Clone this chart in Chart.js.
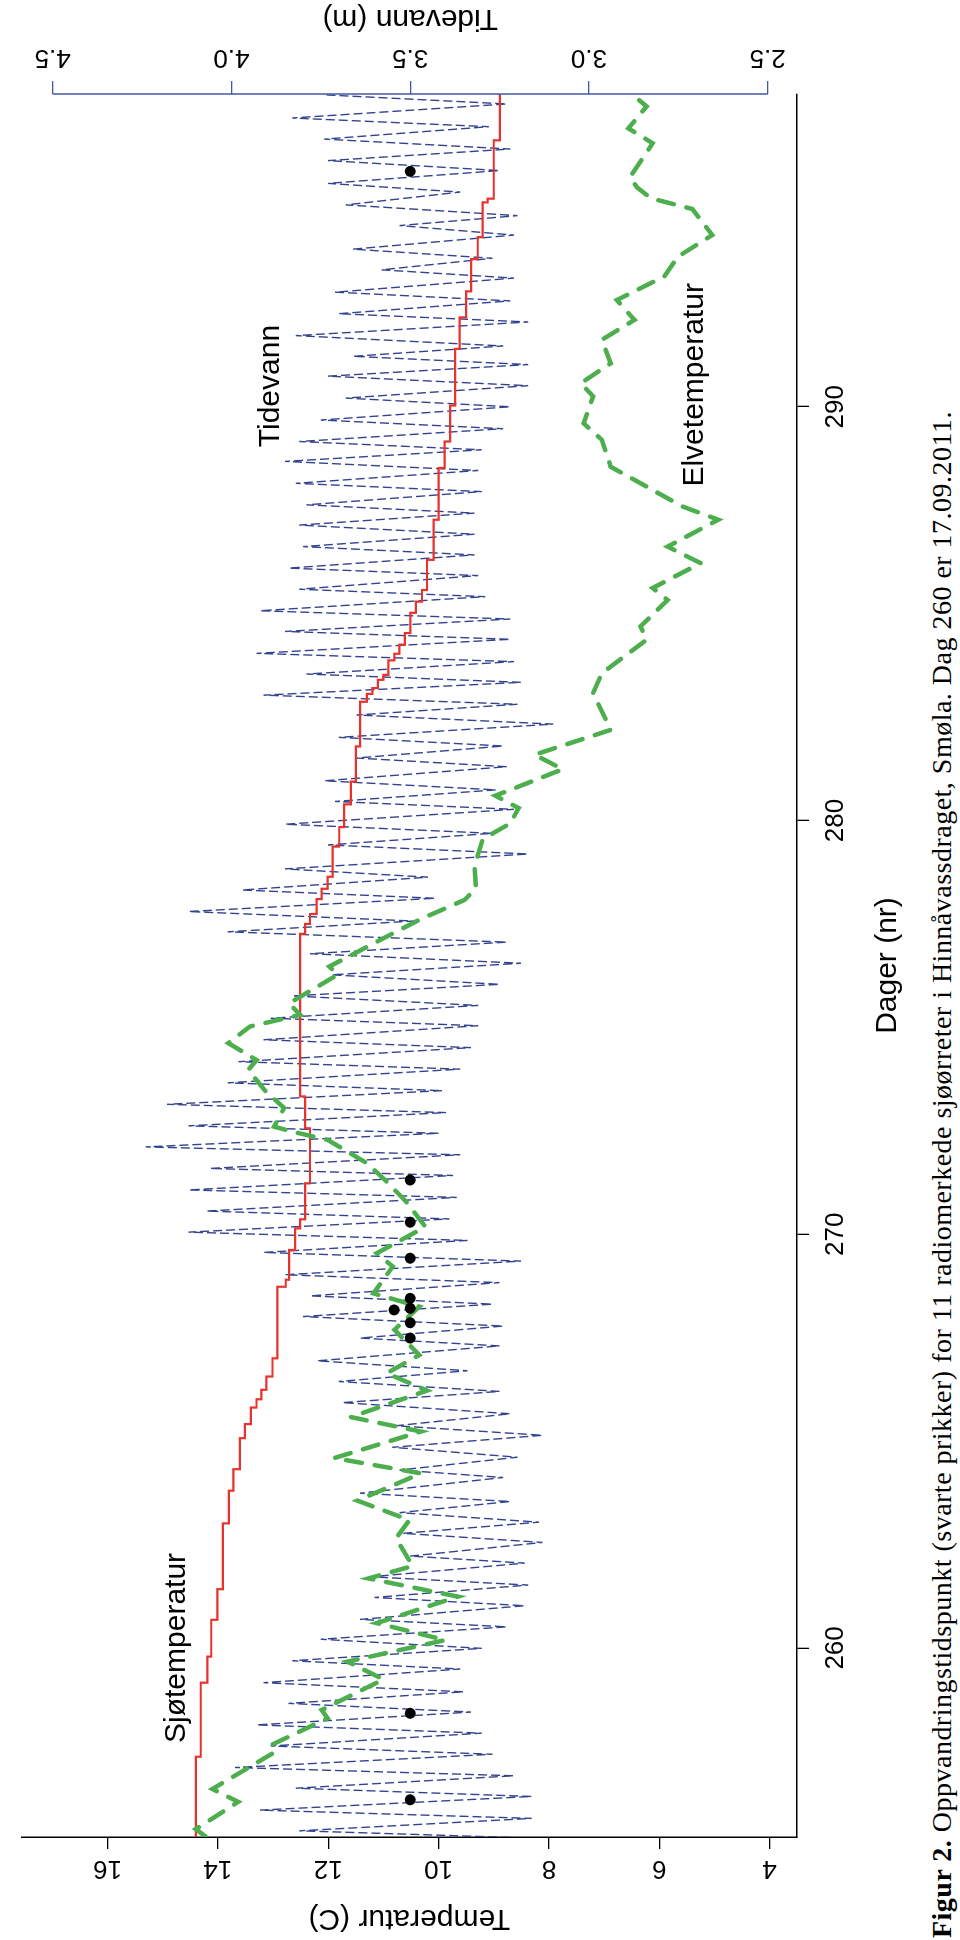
<!DOCTYPE html>
<html>
<head>
<meta charset="utf-8">
<script src="https://cdn.jsdelivr.net/npm/chart.js@4.4.1/dist/chart.umd.min.js"></script>
<style>
  html, body { margin: 0; padding: 0; background: #fff; }
  body { width: 960px; height: 1940px; overflow: hidden; position: relative; }
  /* the figure is laid out landscape and turned a quarter left, like the scanned page */
  #page { position: absolute; left: 0; top: 0; width: 1940px; height: 960px;
          transform-origin: 0 0; transform: translate(0, 1940px) rotate(-90deg); }
  #chart-wrap { position: absolute; left: 0; top: 0; width: 1940px; height: 920px; }
  #caption { position: absolute; left: 2px; top: 926px; white-space: nowrap; color: #000;
             font-family: "Liberation Serif", "Times New Roman", serif; font-size: 28px; }
</style>
</head>
<body>
<div id="page">
  <div id="chart-wrap"><canvas id="tide-chart" width="1940" height="920"></canvas></div>
  <div id="caption"><b>Figur 2.</b> Oppvandringstidspunkt (svarte prikker) for 11 radiomerkede sjøørreter i Hinnåvassdraget, Smøla. Dag 260 er 17.09.2011.</div>
</div>
<script>
const FONT = '"Liberation Sans", Arial, sans-serif';
const TIDE_COLOR = '#33438f';
const TIDE_AXIS_COLOR = '#4257a6';

// Tidevann (m): high and low water
const tideDays = [
  255.42, 255.58, 255.88, 256.08, 256.41, 256.61, 256.91, 257.11, 257.43, 257.63,
  257.94, 258.14, 258.45, 258.66, 258.94, 259.16, 259.49, 259.69, 259.99,
  260.21, 260.51, 260.69, 261.02, 261.22, 261.52, 261.72, 262.05, 262.22, 262.55,
  262.77, 263.04, 263.27, 263.54, 263.74, 264.12, 264.30, 264.61, 264.85, 265.14,
  265.37, 265.66, 265.93, 266.20, 266.44, 266.70, 266.94, 267.30, 267.49,
  267.78, 268.01, 268.31, 268.51, 268.83, 269.02, 269.35, 269.56, 269.85, 270.05,
  270.37, 270.56, 270.89, 271.07, 271.42, 271.59, 271.92, 272.11, 272.44, 272.62,
  272.94, 273.14, 273.47, 273.66, 273.99, 274.17, 274.51, 274.70, 275.04,
  275.22, 275.53, 275.76, 276.04, 276.27, 276.55, 276.78, 277.06, 277.31, 277.57,
  277.80, 278.12, 278.32, 278.63, 278.83, 279.19, 279.41, 279.69, 279.91, 280.27,
  280.46, 280.74, 280.96, 281.30, 281.51, 281.80, 282.01, 282.33, 282.55,
  282.81, 283.03, 283.34, 283.54, 283.84, 284.04, 284.38, 284.57, 284.87, 285.07,
  285.41, 285.59, 285.92, 286.10, 286.42, 286.62, 286.92, 287.14, 287.43, 287.63,
  287.95, 288.15, 288.46, 288.68, 288.96, 289.16, 289.47, 289.68, 290.00,
  290.21, 290.51, 290.74, 291.02, 291.22, 291.47, 291.72, 292.05, 292.25, 292.56,
  292.77, 293.11, 293.31, 293.59, 293.81, 294.15, 294.38, 294.62, 294.88, 295.19,
  295.40, 295.71, 295.95, 296.23, 296.47, 296.77, 296.98, 297.32, 297.54
];
const tideLevel = [
  3.22, 3.81, 3.16, 3.92, 3.16, 3.82, 3.21, 3.99, 3.27, 3.89,
  3.30, 3.93, 3.33, 3.84, 3.35, 3.91, 3.36, 3.83, 3.30,
  3.75, 3.23, 3.64, 3.18, 3.60, 3.17, 3.61, 3.18, 3.50, 3.13,
  3.52, 3.14, 3.53, 3.22, 3.64, 3.24, 3.53, 3.20, 3.55, 3.13,
  3.54, 3.22, 3.69, 3.25, 3.70, 3.34, 3.76, 3.25, 3.64,
  3.24, 3.80, 3.27, 3.78, 3.25, 3.85, 3.19, 3.91, 3.34, 4.12,
  3.39, 4.07, 3.37, 4.12, 3.38, 4.06, 3.36, 4.24, 3.42, 4.12,
  3.40, 4.18, 3.41, 4.01, 3.36, 3.98, 3.33, 3.91, 3.31,
  3.89, 3.31, 3.83, 3.25, 3.72, 3.19, 3.78, 3.23, 4.01, 3.49,
  4.12, 3.43, 3.97, 3.45, 3.85, 3.17, 3.73, 3.27, 3.85, 3.21,
  3.71, 3.26, 3.74, 3.23, 3.65, 3.24, 3.70, 3.10, 3.65,
  3.20, 3.91, 3.19, 3.79, 3.21, 3.93, 3.22, 3.85, 3.22, 3.92,
  3.29, 3.81, 3.31, 3.84, 3.32, 3.80, 3.32, 3.81, 3.32, 3.79,
  3.30, 3.82, 3.31, 3.85, 3.30, 3.81, 3.24, 3.75, 3.22,
  3.68, 3.17, 3.73, 3.17, 3.66, 3.24, 3.82, 3.17, 3.70, 3.22,
  3.71, 3.21, 3.58, 3.27, 3.66, 3.21, 3.53, 3.20, 3.68, 3.36,
  3.73, 3.25, 3.73, 3.22, 3.74, 3.28, 3.83, 3.23, 3.74
];

// Sjøtemperatur (C): day where each new step starts
const seaDays = [
  255.43, 257.37, 259.16, 259.79, 260.68, 261.42, 263.01, 263.80, 264.32, 265.07,
  265.41, 265.81, 266.01, 266.24, 266.56, 267.00, 268.73, 268.90, 269.62, 270.14,
  270.36, 271.23, 272.56, 273.33, 277.26, 277.50, 277.74, 278.10, 278.35, 278.64,
  279.37, 279.84, 280.39, 280.94, 281.79, 282.87, 283.06, 283.20, 283.40, 283.52,
  283.87, 284.03, 284.25, 284.53, 285.02, 285.29, 285.57, 286.30, 287.27, 288.52,
  289.16, 290.03, 291.40, 292.16, 292.79, 293.57, 294.10, 294.94, 295.03, 296.44,
  297.56
];
const seaTemp = [
  14.40, 14.31, 14.19, 14.12, 14.01, 13.91, 13.80, 13.72, 13.60, 13.51,
  13.40, 13.30, 13.21, 13.12, 13.01, 12.92, 12.77, 12.71, 12.60, 12.51,
  12.42, 12.33, 12.42, 12.51, 12.42, 12.33, 12.21, 12.12, 12.01, 11.92,
  11.80, 11.71, 11.59, 11.50, 11.42, 11.30, 11.20, 11.10, 11.00, 10.91,
  10.80, 10.71, 10.61, 10.51, 10.41, 10.30, 10.21, 10.09, 10.00, 9.89,
  9.79, 9.70, 9.62, 9.50, 9.41, 9.29, 9.20, 9.11, 9.00, 8.89,
  8.89
];

// Elvetemperatur (C)
const riverDays = [
  255.44, 255.62, 256.28, 256.59, 257.45, 257.63, 258.30, 258.50, 259.24, 259.67,
  260.19, 260.60, 261.24, 261.68, 261.98, 262.65, 263.09, 263.56, 264.22, 264.59,
  265.23, 265.58, 266.22, 266.64, 267.08, 267.69, 268.25, 268.57, 269.22, 269.54,
  270.18, 270.79, 271.27, 271.72, 272.28, 272.48, 272.60, 273.05, 273.45, 273.97,
  274.21, 274.62, 275.02, 275.30, 275.58, 276.27, 276.47, 277.11, 277.60, 278.08,
  278.36, 278.89, 279.55, 279.93, 280.30, 280.60, 281.24, 281.59, 282.19, 283.08,
  283.56, 284.37, 284.69, 285.33, 285.62, 286.22, 286.62, 287.27, 287.59, 288.07,
  288.55, 289.20, 289.60, 290.25, 290.57, 291.05, 291.62, 292.10, 292.58, 293.15,
  293.63, 294.15, 294.78, 295.04, 295.30, 295.55, 296.15, 296.37, 296.73, 297.26,
  297.56
];
const riverTemp = [
  14.22, 14.40, 13.63, 14.10, 13.01, 13.07, 12.01, 12.12, 11.00, 11.65,
  9.88, 11.12, 9.65, 11.27, 10.47, 10.77, 10.53, 11.47, 10.32, 11.89,
  10.32, 11.59, 10.21, 10.94, 10.35, 10.80, 10.35, 11.18, 10.83, 11.12,
  10.24, 10.59, 10.94, 11.30, 12.01, 12.65, 12.98, 12.80, 13.13, 13.45,
  13.30, 13.81, 13.42, 12.51, 12.71, 11.83, 11.98, 11.06, 10.35, 9.53,
  9.32, 9.35, 9.20, 8.70, 8.55, 8.97, 7.75, 8.26, 6.88, 7.20,
  7.04, 6.23, 6.34, 5.85, 6.12, 5.25, 5.85, 4.93, 5.58, 6.23,
  6.88, 7.04, 7.37, 7.20, 7.42, 6.88, 7.04, 6.45, 6.77, 5.91,
  5.66, 5.04, 5.40, 6.15, 6.40, 6.53, 6.23, 6.12, 6.56, 6.23,
  6.50
];

// Oppvandringstidspunkt for the 11 fish (svarte prikker), drawn on the tide axis
const fishDays = [256.33, 258.42, 267.49, 267.86, 268.17, 268.21, 268.45, 269.42, 270.29, 271.31, 295.69];
const fishLevel = [3.5, 3.5, 3.5, 3.5, 3.545, 3.5, 3.5, 3.5, 3.5, 3.5, 3.5];

const dayTicks = [260, 270, 280, 290];
const tempTicks = [4, 6, 8, 10, 12, 14, 16];
const tideTicks = [2.5, 3.0, 3.5, 4.0, 4.5];

// text written inside the plot, placed in data units
const seriesLabels = [
  { text: 'Sjøtemperatur', day: 260.0, temp: 14.74 },
  { text: 'Tidevann', day: 290.5, temp: 13.04 },
  { text: 'Elvetemperatur', day: 290.53, temp: 5.36 }
];

function points(xs, ys) {
  return xs.map((x, i) => ({ x: x, y: ys[i] }));
}

const extrasPlugin = {
  id: 'extras',
  afterDraw(chart) {
    const ctx = chart.ctx;
    const xScale = chart.scales.x;
    const yTemp = chart.scales.yTemp;
    const yTide = chart.scales.yTide;
    ctx.save();

    // tide axis line only runs from first to last tick
    ctx.strokeStyle = TIDE_AXIS_COLOR;
    ctx.lineWidth = 1.5;
    ctx.beginPath();
    ctx.moveTo(yTide.left, yTide.getPixelForValue(tideTicks[0]));
    ctx.lineTo(yTide.left, yTide.getPixelForValue(tideTicks[tideTicks.length - 1]));
    ctx.stroke();

    ctx.fillStyle = '#000';
    ctx.textAlign = 'center';
    ctx.textBaseline = 'middle';
    ctx.font = '30px ' + FONT;
    seriesLabels.forEach(l => {
      ctx.fillText(l.text, xScale.getPixelForValue(l.day), yTemp.getPixelForValue(l.temp));
    });

    // right axis title reads bottom to top, same as the left one
    ctx.translate(chart.width - 18, yTide.getPixelForValue(3.5));
    ctx.rotate(-Math.PI / 2);
    ctx.fillText('Tidevann (m)', 0, 0);
    ctx.restore();
  }
};

function initChart() {
  const ctx = document.getElementById('tide-chart').getContext('2d');
  new Chart(ctx, {
    type: 'line',
    data: {
      datasets: [
        {
          label: 'Oppvandring',
          data: points(fishDays, fishLevel),
          yAxisID: 'yTide',
          showLine: false,
          pointRadius: 5.5,
          pointBackgroundColor: '#000',
          pointBorderWidth: 0,
          order: 0
        },
        {
          label: 'Elvetemperatur',
          data: points(riverDays, riverTemp),
          yAxisID: 'yTemp',
          borderColor: '#4cae4c',
          borderWidth: 4.5,
          borderDash: [16, 13],
          borderCapStyle: 'round',
          pointRadius: 0,
          tension: 0,
          order: 1
        },
        {
          label: 'Sjøtemperatur',
          data: points(seaDays, seaTemp),
          yAxisID: 'yTemp',
          borderColor: '#e8322c',
          borderWidth: 2.2,
          stepped: true,
          pointRadius: 0,
          order: 2
        },
        {
          label: 'Tidevann',
          data: points(tideDays, tideLevel),
          yAxisID: 'yTide',
          borderColor: TIDE_COLOR,
          borderWidth: 1.4,
          borderDash: [9, 4],
          pointRadius: 0,
          tension: 0,
          order: 3
        }
      ]
    },
    options: {
      responsive: false,
      animation: false,
      devicePixelRatio: 1,
      layout: { padding: { top: 3, left: 0, right: 0, bottom: 0 } },
      plugins: {
        legend: { display: false },
        tooltip: { enabled: false }
      },
      scales: {
        x: {
          type: 'linear',
          position: 'bottom',
          min: 255.43,
          max: 297.56,
          afterBuildTicks: s => { s.ticks = dayTicks.map(v => ({ value: v })); },
          afterFit: s => { s.height = 123; },
          grid: { drawOnChartArea: false, tickLength: 12, color: '#000', lineWidth: 1.3 },
          border: { color: '#000', width: 1.5 },
          ticks: { font: { size: 26, family: FONT }, color: '#000', padding: 11, maxRotation: 0, autoSkip: false },
          title: { display: true, text: 'Dager (nr)', color: '#000',
                   font: { size: 30, family: FONT }, padding: { top: 0, bottom: 14 } }
        },
        yTemp: {
          type: 'linear',
          position: 'left',
          min: 3.504,
          max: 17.557,
          afterBuildTicks: s => { s.ticks = tempTicks.map(v => ({ value: v })); },
          afterFit: s => { s.width = 103; },
          grid: { drawOnChartArea: false, tickLength: 12, color: '#000', lineWidth: 1.3 },
          border: { color: '#000', width: 1.5 },
          ticks: { font: { size: 26, family: FONT }, color: '#000', padding: 5,
                   minRotation: 90, maxRotation: 90, crossAlign: 'center', autoSkip: false },
          title: { display: true, text: 'Temperatur (C)', color: '#000',
                   font: { size: 30, family: FONT }, padding: { top: 4, bottom: 0 } }
        },
        yTide: {
          type: 'linear',
          position: 'right',
          min: 2.418,
          max: 4.587,
          afterBuildTicks: s => { s.ticks = tideTicks.map(v => ({ value: v })); },
          afterFit: s => { s.width = 94; },
          grid: { drawOnChartArea: false, tickLength: 13, color: TIDE_AXIS_COLOR, lineWidth: 1.3 },
          border: { display: false },
          ticks: { font: { size: 26, family: FONT }, color: '#000', padding: 6,
                   minRotation: 90, maxRotation: 90, crossAlign: 'center', autoSkip: false,
                   callback: v => Number(v).toFixed(1) }
        }
      }
    },
    plugins: [extrasPlugin]
  });
}

// stretch the caption to the width it has on the page
function fitCaption() {
  const cap = document.getElementById('caption');
  const target = 1527;
  const chars = cap.textContent.length;
  const extra = (target - cap.scrollWidth) / chars;
  cap.style.letterSpacing = extra.toFixed(2) + 'px';
}

initChart();
fitCaption();
</script>
</body>
</html>
